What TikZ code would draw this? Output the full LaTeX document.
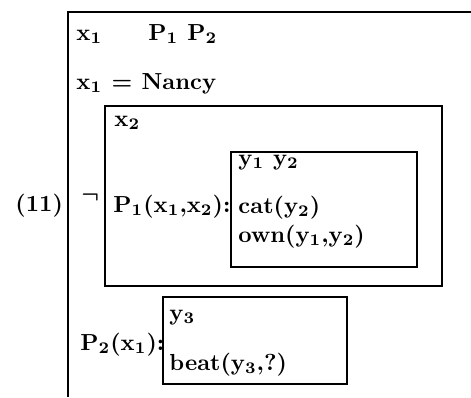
\documentclass[tikz,border=0pt]{standalone}
\usepackage{tikz}

\newcommand{\sbf}[1]{$_{\mathbf{#1}}$}
\newcommand{\bsym}[1]{{\boldmath$#1$}}

\begin{document}
\begin{tikzpicture}[x=0.431pt,y=-0.431pt]
\tikzset{t/.style={anchor=base west,inner sep=0pt,font=\bfseries},box/.style={draw,line width=0.8pt}}
\useasboundingbox (0,0) rectangle (471,397);

% frames
\draw[box] (471,12) -- (68,12) -- (68,397);
\draw[box] (105,106) rectangle (442,286);
\draw[box] (231,152) rectangle (417,267);
\draw[box] (163,297) rectangle (347,384);

\node[t] (num) at (15,211) {(11)};
\node[t] (neg) at (81,202) {\bsym{\neg}};

\node[t] (x1) at (76,40) {x\sbf{1}};
\node[t] (p12) at (148,40) {P\sbf{1} P\sbf{2}};
\node[t] (eq) at (76,89) {x\sbf{1}\hspace{4pt}\bsym{=}\hspace{4pt}Nancy};

\node[t] (x2) at (114,126) {x\sbf{2}};
\node[t] (p1) at (113,212) {P\sbf{1}(x\sbf{1},x\sbf{2}):};
\node[t] (y12) at (238,165) {y\sbf{1} y\sbf{2}};
\node[t] (cat) at (238,213) {cat(y\sbf{2})};
\node[t] (own) at (238,242) {own(y\sbf{1},y\sbf{2})};

\node[t] (p2) at (80,350) {P\sbf{2}(x\sbf{1}):};
\node[t] (y3) at (169,320) {y\sbf{3}};
\node[t] (beat) at (169,370) {beat(y\sbf{3},?)};
\end{tikzpicture}
\end{document}
